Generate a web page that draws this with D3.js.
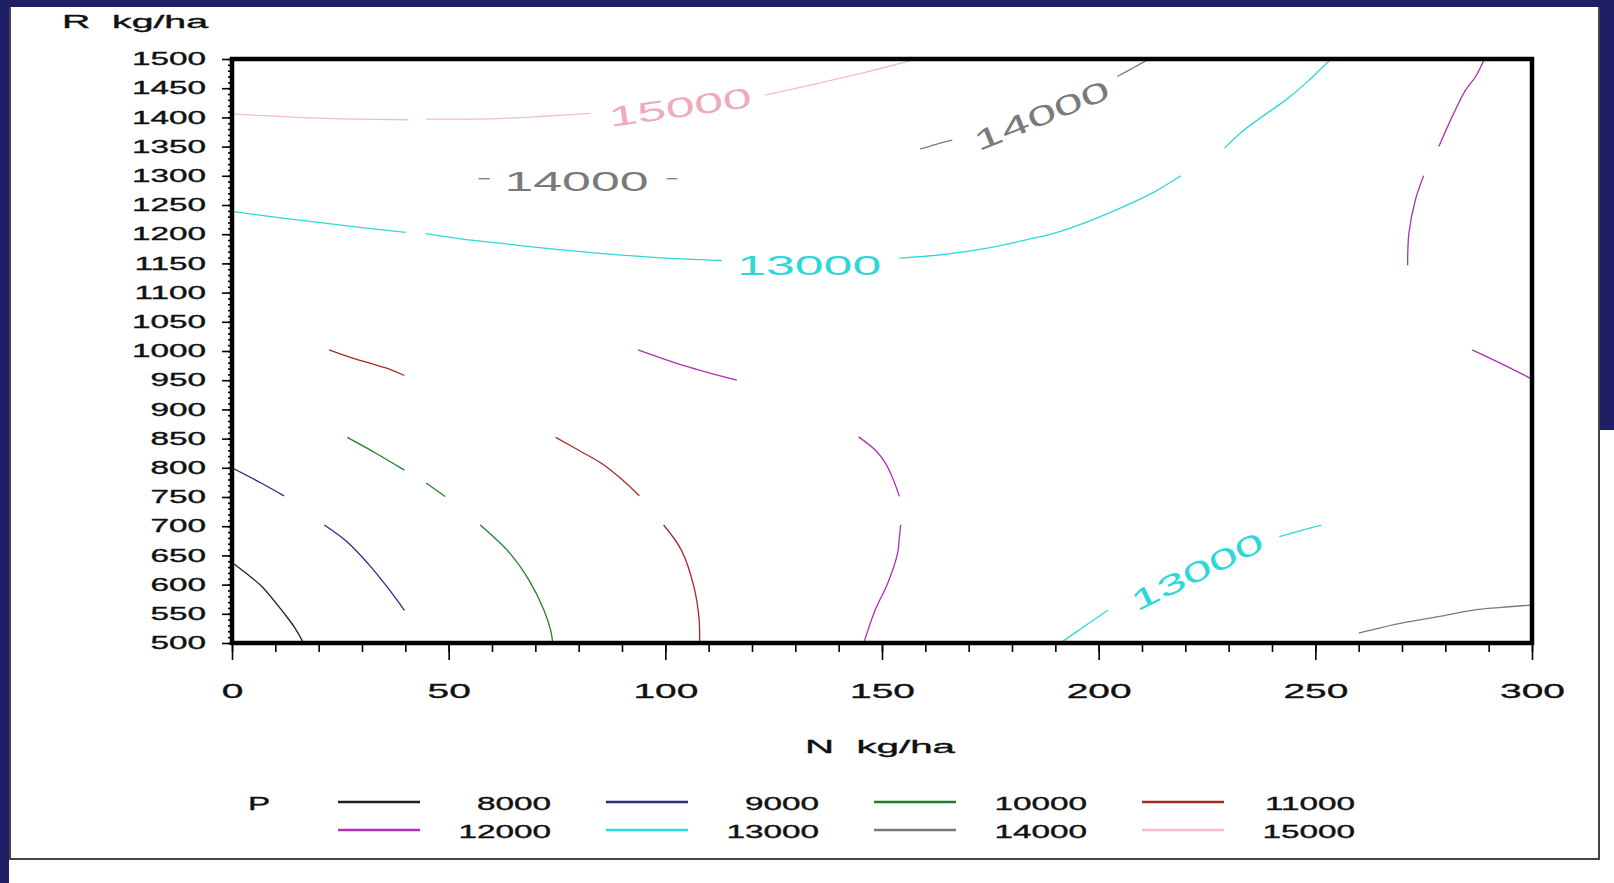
<!DOCTYPE html>
<html>
<head>
<meta charset="utf-8">
<script src="https://cdn.jsdelivr.net/npm/d3@7"></script>
<style>
body { margin: 0; background: #fff; }
svg { display: block; }
text { font-family: "Liberation Sans", Arial, sans-serif; fill: #111; }
</style>
</head>
<body>
<div id="chart"></div>
<script>
const width = 1614;
const height = 883;
const plot = {left: 232, right: 1532, top: 59, bottom: 643};
const stretch = 1.85;   // the SAS font is very wide

// contour levels (P) and their colours
const levels = [8000, 9000, 10000, 11000, 12000, 13000, 14000, 15000];
const levelColors = ["#222222", "#2b2b85", "#1f7f2a", "#a82828", "#b030b8", "#2ed8d8", "#7a7a7a", "#f2bcc8"];

// axis ticks
const xTicks = d3.range(0, 301, 50);
const xMinor = d3.range(0, 301, 10);
const yTicks = d3.range(500, 1501, 50);
const yMinor = d3.range(500, 1501, 10);

// contour pieces, [N kg/ha, R kg/ha]
const c8000 = [
    [[0, 638], [3.5, 618], [7, 596], [12, 551], [14.5, 526], [16.5, 500]]
];
const c9000 = [
    [[0, 800], [6.7, 774], [12, 752]],
    [[21.3, 702], [26.6, 673], [31.4, 636], [35.8, 596], [39.8, 556]]
];
const c10000 = [
    [[26.6, 852], [33.2, 825], [39.8, 796]],
    [[44.8, 774], [49.2, 751]],
    [[57.3, 702], [64.1, 654], [68.5, 608], [72, 556], [73.6, 520], [74, 500]]
];
const c11000 = [
    [[22.4, 1002], [27, 990], [31.4, 980], [35.5, 971], [39.8, 958]],
    [[74.7, 852], [80, 830], [85.4, 807], [90, 780], [94, 752]],
    [[99.6, 702], [103.7, 659], [106.6, 596], [107.8, 540], [107.9, 500]]
];
const c12000 = [
    [[93.7, 1002], [104.3, 975], [116.5, 950]],
    [[144.6, 853], [148.5, 830], [150.8, 808], [152.6, 780], [154, 751]],
    [[154.3, 702], [154, 680], [153.6, 654], [151.3, 602], [148.4, 556], [145.8, 500]],
    [[289, 1500], [287, 1470], [284.7, 1447], [281.5, 1400], [278.5, 1350]],
    [[275, 1300], [273.1, 1259], [271.6, 1202], [271.3, 1147]],
    [[286.2, 1002], [293, 978], [300, 952]]
];
const c13000 = [
    [[0, 1239], [9, 1230], [18.9, 1221], [29, 1212], [40.1, 1203]],
    [[44.7, 1201], [52, 1193], [61.3, 1185], [72, 1176], [84.9, 1167], [98, 1160], [113, 1155]],
    [[154, 1159], [165, 1166], [175, 1177], [183, 1190], [189.4, 1201], [198, 1223], [206, 1248], [213, 1273], [219, 1300]],
    [[229, 1347], [233, 1375], [237.5, 1400], [243.2, 1430], [248, 1460], [253.6, 1500]],
    [[191, 500], [192.1, 505], [197, 530], [202.1, 556]],
    [[241.7, 682], [246.5, 692], [251.4, 702]]
];
const c14000 = [
    [[56.9, 1295], [59.5, 1295]],
    [[100.3, 1295], [102.8, 1295]],
    [[158.8, 1346], [162.5, 1354], [166.2, 1361]],
    [[204.3, 1470], [208, 1485], [211.7, 1500]],
    [[260, 517], [265, 526], [271.3, 536], [279, 546], [286.2, 556], [293, 561], [300, 565]]
];
const c15000 = [
    [[0, 1406], [15, 1400], [28.8, 1397], [40.7, 1396]],
    [[44.7, 1397], [61.4, 1398], [72, 1402], [82.6, 1407]],
    [[123, 1438], [135, 1458], [147, 1479], [158, 1500]]
];

// in-line labels of the contours
const contourLabels = [
    {level: 15000, n: 103.4, r: 1418, angle: -8},
    {level: 14000, n: 79.5, r: 1291, angle: 0},
    {level: 14000, n: 186.8, r: 1404, angle: -22},
    {level: 13000, n: 133.2, r: 1148, angle: 0},
    {level: 13000, n: 222.7, r: 623, angle: -26}
];

const contourPieces = [c8000, c9000, c10000, c11000, c12000, c13000, c14000, c15000];
const lines = [];
levels.forEach((lv, i) => contourPieces[i].forEach(pts => lines.push({level: lv, pts: pts})));

const color = d3.scaleOrdinal().domain(levels).range(levelColors);

const svg = d3.select("#chart").append("svg")
    .attr("width", width)
    .attr("height", height);

// slide background and white panel
svg.append("rect").attr("width", width).attr("height", height).attr("fill", "#fff");
svg.append("rect").attr("x", 0).attr("y", 0).attr("width", width).attr("height", 7).attr("fill", "#1f1f68");
svg.append("rect").attr("x", 0).attr("y", 0).attr("width", 9).attr("height", height).attr("fill", "#1f1f68");
svg.append("rect").attr("x", 1600).attr("y", 0).attr("width", 14).attr("height", 430).attr("fill", "#1f1f68");
svg.append("path")
    .attr("d", "M10,7V859H1599V7")
    .attr("fill", "none")
    .attr("stroke", "#444")
    .attr("stroke-width", 2);

const x = d3.scaleLinear().domain([0, 300]).range([plot.left, plot.right]);
const y = d3.scaleLinear().domain([500, 1500]).range([plot.bottom, plot.top]);

svg.append("clipPath").attr("id", "clip")
    .append("rect")
    .attr("x", plot.left).attr("y", plot.top)
    .attr("width", plot.right - plot.left).attr("height", plot.bottom - plot.top);

const line = d3.line()
    .x(d => x(d[0]))
    .y(d => y(d[1]))
    .curve(d3.curveCatmullRom);

svg.append("g")
    .attr("clip-path", "url(#clip)")
    .selectAll("path")
    .data(lines)
    .join("path")
    .attr("d", d => line(d.pts))
    .attr("fill", "none")
    .attr("stroke", d => color(d.level))
    .attr("stroke-width", 1.3);

svg.append("g")
    .selectAll("text")
    .data(contourLabels)
    .join("text")
    .attr("transform", d => `translate(${x(d.n)},${y(d.r)}) rotate(${d.angle}) scale(${stretch},1)`)
    .attr("text-anchor", "middle")
    .attr("dy", "0.36em")
    .attr("font-size", 28)
    .style("fill", d => d.level === 15000 ? "#f0aabb" : color(d.level))
    .text(d => d.level);

// frame
svg.append("rect")
    .attr("x", plot.left).attr("y", plot.top)
    .attr("width", plot.right - plot.left).attr("height", plot.bottom - plot.top)
    .attr("fill", "none")
    .attr("stroke", "#000")
    .attr("stroke-width", 4.5);

// x axis
const xMinorG = svg.append("g")
    .attr("transform", `translate(0,${plot.bottom})`)
    .call(d3.axisBottom(x).tickValues(xMinor).tickSize(9).tickFormat(""));
const xAxisG = svg.append("g")
    .attr("transform", `translate(0,${plot.bottom})`)
    .call(d3.axisBottom(x).tickValues(xTicks).tickSize(17).tickFormat(d3.format("d")));
xAxisG.selectAll("text")
    .attr("y", null).attr("dy", null)
    .attr("transform", `translate(0,55) scale(${stretch},1)`)
    .attr("font-size", 21);

// y axis
const yMinorG = svg.append("g")
    .attr("transform", `translate(${plot.left},0)`)
    .call(d3.axisLeft(y).tickValues(yMinor).tickSize(4).tickFormat(""));
const yAxisG = svg.append("g")
    .attr("transform", `translate(${plot.left},0)`)
    .call(d3.axisLeft(y).tickValues(yTicks).tickSize(10).tickFormat(d3.format("d")));
yAxisG.selectAll("text")
    .attr("x", null)
    .attr("transform", `translate(-26,0) scale(${stretch},1)`)
    .attr("font-size", 18);

[xMinorG, xAxisG, yMinorG, yAxisG].forEach(g => {
    g.select(".domain").remove();
    g.selectAll("line").attr("stroke", "#000").attr("stroke-width", 1.6);
    g.selectAll("text").attr("font-family", null)
        .style("fill", "#111")
        .style("stroke", "#111")
        .style("stroke-width", 0.35);
});

// axis titles
svg.append("text")
    .attr("x", 62).attr("y", 28)
    .attr("font-size", 18)
    .attr("textLength", 146)
    .attr("lengthAdjust", "spacingAndGlyphs")
    .style("stroke", "#111").style("stroke-width", 0.35)
    .text("R\u00a0\u00a0kg/ha");

svg.append("text")
    .attr("x", 805).attr("y", 753)
    .attr("font-size", 19)
    .attr("textLength", 150)
    .attr("lengthAdjust", "spacingAndGlyphs")
    .style("stroke", "#111").style("stroke-width", 0.35)
    .text("N\u00a0\u00a0kg/ha");

// legend
const legend = svg.append("g");
legend.append("text")
    .attr("transform", `translate(248,810) scale(${stretch},1)`)
    .attr("font-size", 18)
    .style("stroke", "#111").style("stroke-width", 0.35)
    .text("P");

const items = legend.selectAll("g.item")
    .data(levels)
    .join("g")
    .attr("class", "item")
    .attr("transform", (d, i) => `translate(${338 + (i % 4) * 268},${802 + Math.floor(i / 4) * 28})`);

items.append("line")
    .attr("x1", 0).attr("x2", 82)
    .attr("stroke", d => color(d))
    .attr("stroke-width", 2.5);

items.append("text")
    .attr("transform", `translate(213,8) scale(${stretch},1)`)
    .attr("text-anchor", "end")
    .attr("font-size", 18)
    .style("stroke", "#111").style("stroke-width", 0.35)
    .text(d => d);
</script>
</body>
</html>
